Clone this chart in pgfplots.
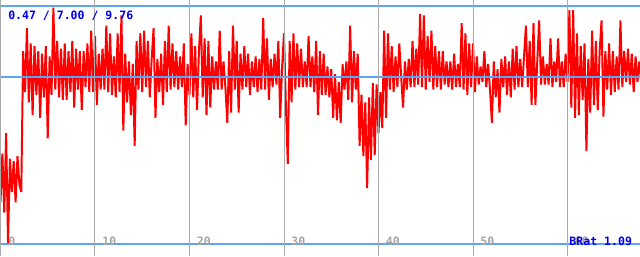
\documentclass[border=0pt]{standalone}
\usepackage{pgfplots}
\pgfplotsset{compat=1.18}
\usepackage{fontspec}
\setmonofont{DejaVu Sans Mono}
\definecolor{refline}{RGB}{90,165,245}
\definecolor{gridgray}{RGB}{170,170,170}
\definecolor{tickgray}{RGB}{165,165,165}
\definecolor{txtblue}{RGB}{0,0,240}
\begin{document}
\begin{tikzpicture}
\begin{axis}[
  at={(0,0)}, anchor=south west,
  width=16cm, height=6.4cm, scale only axis,
  xmin=-0.05, xmax=67.67, ymin=0, ymax=10,
  axis line style={draw=none},
  ytick=\empty, xtick={0,10,...,60}, xticklabels={},
  major tick length=0pt,
  xmajorgrids, grid style={gridgray, line width=0.7pt},
  axis on top,
]
\addplot[red, line width=1.4pt, line join=bevel] table[x=x,y=y] {
x y
0.0 2.1
0.2 4.0
0.4 1.7
0.6 4.8
0.8 0.5
1.0 3.8
1.2 2.5
1.4 3.7
1.6 2.1
1.8 3.9
2.0 2.8
2.2 2.5
2.4 8.0
2.6 6.4
2.8 8.9
3.0 6.0
3.2 8.3
3.4 5.5
3.6 8.2
3.8 6.3
4.0 8.0
4.2 5.4
4.4 7.9
4.6 6.2
4.8 8.2
5.0 4.6
5.2 7.8
5.4 6.3
5.6 9.7
5.8 6.5
6.0 8.4
6.2 6.2
6.4 8.1
6.6 6.1
6.8 8.3
7.0 6.1
7.2 8.0
7.4 6.4
7.6 8.4
7.8 5.8
8.0 8.1
8.2 6.5
8.4 8.0
8.6 5.7
8.8 8.0
9.0 6.6
9.2 8.3
9.4 6.4
9.6 8.8
9.8 6.4
10.0 8.6
10.2 5.9
10.4 7.9
10.6 6.5
10.8 8.1
11.0 6.5
11.2 9.0
11.4 6.4
11.6 8.7
11.8 6.3
12.0 7.8
12.2 6.2
12.4 8.7
12.6 6.4
12.8 9.4
13.0 4.9
13.2 7.9
13.4 6.0
13.6 7.6
13.8 5.5
14.0 7.5
14.2 4.3
14.4 8.4
14.6 6.5
14.8 8.7
15.0 6.4
15.2 8.8
15.4 6.6
15.6 8.4
15.8 6.2
16.0 7.7
16.2 8.9
16.4 5.4
16.6 7.7
16.8 6.4
17.0 7.9
17.2 5.9
17.4 8.4
17.6 6.4
17.8 9.0
18.0 6.5
18.2 8.3
18.4 6.6
18.6 8.0
18.8 6.5
19.0 7.8
19.2 6.6
19.4 8.3
19.6 5.1
19.8 7.5
20.0 6.3
20.2 8.7
20.4 6.2
20.6 8.2
20.8 5.7
21.0 8.0
21.2 9.4
21.4 6.2
21.6 8.5
21.8 5.5
22.0 8.4
22.2 5.8
22.4 7.8
22.6 6.5
22.8 7.6
23.0 6.5
23.2 8.8
23.4 6.5
23.6 7.6
23.8 6.6
24.0 5.2
24.2 8.0
24.4 5.6
24.6 9.0
24.8 6.5
25.0 8.4
25.2 5.6
25.4 7.9
25.6 6.5
25.8 8.2
26.0 6.6
26.2 7.9
26.4 6.3
26.6 7.6
26.8 6.6
27.0 7.8
27.2 6.4
27.4 7.7
27.6 6.5
27.8 9.3
28.0 6.5
28.2 8.5
28.4 6.1
28.6 7.7
28.8 6.6
29.0 7.9
29.2 6.7
29.4 8.4
29.6 5.4
29.8 7.4
30.0 8.7
30.2 5.9
30.4 3.6
30.6 8.4
30.8 6.0
31.0 8.7
31.2 6.5
31.4 8.3
31.6 6.6
31.8 8.1
32.0 6.6
32.2 7.6
32.4 6.6
32.6 8.6
32.8 6.6
33.0 7.8
33.2 6.4
33.4 8.4
33.6 5.5
33.8 8.0
34.0 6.3
34.2 7.9
34.4 6.3
34.6 7.4
34.8 6.2
35.0 7.3
35.2 5.4
35.4 7.1
35.6 5.3
35.8 6.8
36.0 5.2
36.2 7.5
36.4 6.5
36.6 7.6
36.8 6.1
37.0 9.0
37.2 6.0
37.4 8.0
37.6 6.5
37.8 7.9
38.0 4.3
38.2 6.3
38.4 3.9
38.6 6.0
38.8 2.65
39.0 6.2
39.2 3.75
39.4 6.75
39.6 3.95
39.8 6.7
40.0 4.8
40.2 6.4
40.4 5.0
40.6 8.8
40.8 5.4
41.0 8.7
41.2 6.5
41.4 8.2
41.6 6.4
41.8 7.8
42.0 6.6
42.2 8.3
42.4 7.0
42.6 5.8
42.8 7.6
43.0 6.5
43.2 7.7
43.4 6.6
43.6 8.4
43.8 6.6
44.0 8.1
44.2 6.7
44.4 9.45
44.6 6.6
44.8 9.4
45.0 6.5
45.2 8.6
45.4 6.8
45.6 8.8
45.8 6.5
46.0 8.2
46.2 6.6
46.4 8.0
46.6 6.5
46.8 8.0
47.0 6.7
47.2 7.6
47.4 6.6
47.6 7.6
47.8 6.5
48.0 7.9
48.2 6.6
48.4 7.5
48.6 6.6
48.8 9.1
49.0 6.5
49.2 8.7
49.4 6.3
49.6 8.3
49.8 6.6
50.0 8.3
50.2 6.4
50.4 7.8
50.6 6.7
50.8 7.4
51.0 6.8
51.2 8.0
51.4 6.6
51.6 7.5
51.8 6.5
52.0 5.2
52.2 7.6
52.4 6.2
52.6 7.3
52.8 5.6
53.0 7.7
53.2 6.6
53.4 7.8
53.6 6.3
53.8 7.6
54.0 6.2
54.2 8.1
54.4 6.5
54.6 8.2
54.8 6.6
55.0 7.7
55.2 6.6
55.4 7.8
55.6 9.0
55.8 6.6
56.0 8.4
56.2 5.9
56.4 9.1
56.6 5.9
56.8 7.6
57.0 9.2
57.2 6.7
57.4 7.8
57.6 6.7
57.8 7.5
58.0 6.7
58.2 8.5
58.4 6.6
58.6 7.6
58.8 6.8
59.0 8.5
59.2 6.6
59.4 7.6
59.6 6.6
59.8 7.9
60.0 6.8
60.2 9.6
60.4 5.8
60.6 9.6
60.8 5.4
61.0 8.7
61.2 5.5
61.4 8.2
61.6 6.1
61.8 8.3
62.0 4.1
62.2 7.7
62.4 5.6
62.6 8.8
62.8 5.9
63.0 8.4
63.2 5.7
63.4 8.0
63.6 9.2
63.8 5.45
64.0 8.0
64.2 6.5
64.4 8.3
64.6 6.3
64.8 8.0
65.0 6.4
65.2 7.8
65.4 6.5
65.6 9.2
65.8 6.6
66.0 8.0
66.2 6.8
66.4 8.1
66.6 6.7
66.8 7.9
67.0 6.4
67.2 7.8
67.4 6.8
67.6 7.6
67.8 6.9
};
\addplot[refline, line width=1pt] coordinates {(-1,9.76) (70,9.76)};
\addplot[refline, line width=1pt] coordinates {(-1,7.00) (70,7.00)};
\addplot[refline, line width=1pt] coordinates {(-1,0.47) (70,0.47)};
\end{axis}
\begin{scope}[every node/.style={inner sep=0pt, anchor=base west, font=\fontsize{8.2}{9}\selectfont\ttfamily\bfseries}]
\node[text=tickgray] at (0.20,0.275) {0};
\node[text=tickgray] at (2.553,0.275) {10};
\node[text=tickgray] at (4.916,0.275) {20};
\node[text=tickgray] at (7.279,0.275) {30};
\node[text=tickgray] at (9.641,0.275) {40};
\node[text=tickgray] at (12.004,0.275) {50};
\node[text=tickgray] at (14.367,0.275) {60};
\node[text=txtblue] at (0.2,5.91) {0.47 / 7.00 / 9.76};
\node[text=txtblue] at (14.23,0.275) {BRat 1.09};
\end{scope}
\pgfresetboundingbox
\path (0,0) rectangle (16cm,6.4cm);
\end{tikzpicture}
\end{document}
